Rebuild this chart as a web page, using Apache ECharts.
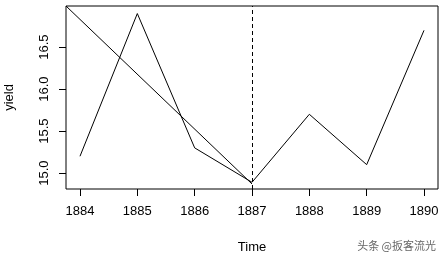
<!DOCTYPE html>
<html><head><meta charset="utf-8">
<script src="https://cdn.jsdelivr.net/npm/echarts@6/dist/echarts.min.js"></script>
<style>html,body{margin:0;padding:0;background:#fff}#c{width:445px;height:257px}</style>
</head><body><div id="c"></div>
<script>
var years = [1884, 1885, 1886, 1887, 1888, 1889, 1890];
var yieldVals = [15.2, 16.9, 15.3, 14.89, 15.7, 15.1, 16.7];
var trendX = [1883.756, 1887];
var trendY = [16.99, 14.87];
var xTicks = [1884, 1885, 1886, 1887, 1888, 1889, 1890];
var yTicks = [15.0, 15.5, 16.0, 16.5];
var cutYear = 1887;
var xRange = [1883.756, 1890.244];
var yRange = [14.81, 16.99];

var chart = echarts.init(document.getElementById('c'));
var font = 'Liberation Sans, Arial, sans-serif';
chart.setOption({
  animation: false,
  grid: {left: 66, right: 7, top: 6, bottom: 68, show: true, borderColor: '#000', borderWidth: 1, backgroundColor: 'transparent',
    containLabel: false, outerBoundsMode: 'none'},
  xAxis: {
    type: 'value', min: xRange[0], max: xRange[1],
    name: 'Time', nameLocation: 'middle', nameGap: 52,
    nameTextStyle: {color: '#000', fontSize: 13, fontFamily: font},
    axisLine: {show: false},
    splitLine: {show: false},
    axisTick: {show: true, inside: false, length: 7, lineStyle: {color: '#000'}, customValues: xTicks},
    axisLabel: {color: '#000', fontSize: 13, fontFamily: font, margin: 16, customValues: xTicks,
      formatter: function(v){return String(Math.round(v));}}
  },
  yAxis: {
    type: 'value', min: yRange[0], max: yRange[1],
    name: 'yield', nameLocation: 'middle', nameGap: 50, nameRotate: 90,
    nameTextStyle: {color: '#000', fontSize: 13, fontFamily: font},
    axisLine: {show: false},
    splitLine: {show: false},
    axisTick: {show: true, inside: false, length: 7, lineStyle: {color: '#000'}, customValues: yTicks},
    axisLabel: {color: '#000', fontSize: 13, fontFamily: font, margin: 15, rotate: 90, align: 'center', verticalAlign: 'bottom',
      customValues: yTicks, formatter: function(v){return v.toFixed(1);}}
  },
  graphic: [{type: 'text', right: 9, bottom: 6, style: {text: '头条 @扳客流光', fill: '#666', font: '11px "Noto Sans CJK SC"'}}],
  series: [
    {type: 'line', data: years.map(function(y,i){return [y, yieldVals[i]];}), showSymbol: false,
      lineStyle: {color: '#000', width: 1}, silent: true,
      markLine: {silent: true, symbol: 'none', label: {show: false},
        lineStyle: {color: '#000', type: [4, 3], width: 1}, data: [{xAxis: cutYear}]}},
    {type: 'line', data: trendX.map(function(x,i){return [x, trendY[i]];}), showSymbol: false,
      lineStyle: {color: '#000', width: 1}, silent: true}
  ]
});
</script></body></html>
